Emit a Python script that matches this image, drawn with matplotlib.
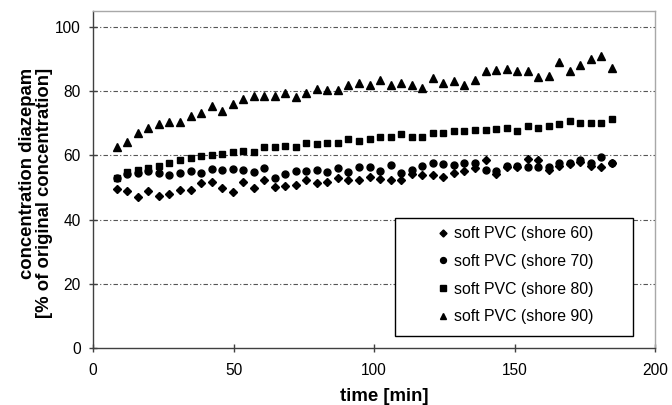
import numpy as np
import matplotlib.pyplot as plt
from matplotlib.patches import Rectangle

plt.rcParams['font.family'] = ['Liberation Sans', 'DejaVu Sans']

# sampling times [min]
time = [8.4, 12.2, 15.9, 19.7, 23.4, 27.2, 30.9, 34.7, 38.4, 42.2, 45.9, 49.7,
        53.4, 57.2, 60.9, 64.7, 68.4, 72.2, 75.9, 79.7, 83.4, 87.2, 90.9, 94.7,
        98.4, 102.2, 105.9, 109.7, 113.4, 117.2, 120.9, 124.7, 128.4, 132.2, 135.9, 139.7,
        143.4, 147.2, 150.9, 154.7, 158.4, 162.2, 165.9, 169.7, 173.4, 177.2, 180.9, 184.7]

shore60 = [49.4, 49.0, 47.1, 48.8, 47.4, 47.9, 49.2, 49.2, 51.3, 51.6, 49.9, 48.7,
           51.8, 49.9, 52.5, 50.3, 50.5, 50.8, 52.5, 51.3, 51.8, 52.9, 52.3, 52.5,
           53.4, 52.8, 52.3, 52.3, 54.2, 53.9, 53.9, 53.2, 54.6, 55.2, 56.0, 58.6,
           54.2, 56.5, 56.5, 59.0, 58.7, 55.5, 56.7, 57.2, 58.0, 56.7, 56.3, 57.5]

shore70 = [53.0, 54.2, 54.6, 55.0, 54.6, 53.9, 54.4, 55.2, 54.4, 55.8, 55.5, 55.8,
           55.5, 54.9, 56.0, 53.1, 54.2, 55.2, 55.2, 55.5, 54.9, 56.0, 54.9, 56.3,
           56.3, 55.2, 57.0, 54.6, 55.6, 56.7, 57.7, 57.3, 57.0, 57.7, 57.7, 55.6,
           55.2, 56.7, 56.7, 56.5, 56.5, 56.5, 57.7, 57.5, 58.6, 57.7, 59.4, 57.7]

shore80 = [52.9, 54.8, 55.5, 56.0, 56.8, 57.8, 58.6, 59.3, 59.9, 60.1, 60.4, 61.1,
           61.5, 61.0, 62.7, 62.7, 63.0, 62.7, 64.0, 63.6, 64.0, 64.0, 65.0, 64.6,
           65.0, 65.6, 65.8, 66.6, 65.6, 65.6, 66.9, 66.9, 67.6, 67.6, 67.9, 67.9,
           68.2, 68.7, 67.6, 69.2, 68.7, 69.2, 69.8, 70.7, 70.0, 70.2, 70.2, 71.3]

shore90 = [62.7, 64.1, 67.1, 68.6, 69.8, 70.3, 70.3, 72.4, 73.3, 75.4, 73.9, 76.1,
           77.7, 78.4, 78.4, 78.4, 79.3, 78.3, 79.5, 80.6, 80.4, 80.4, 81.8, 82.5,
           81.8, 83.5, 81.8, 82.5, 81.8, 80.9, 84.0, 82.5, 83.2, 81.8, 83.5, 86.2,
           86.5, 86.9, 86.2, 86.2, 84.3, 84.8, 89.1, 86.2, 88.2, 90.1, 91.1, 87.3]

labels = ['soft PVC (shore 60)', 'soft PVC (shore 70)',
          'soft PVC (shore 80)', 'soft PVC (shore 90)']

fig = plt.figure(figsize=(6.72, 4.05), dpi=100)
ax = fig.add_axes([0.1384, 0.1407, 0.8363, 0.8329])

ax.plot(time, shore60, 'D', color='black', ms=4.2, label=labels[0])
ax.plot(time, shore70, 'o', color='black', ms=5.0, label=labels[1])
ax.plot(time, shore80, 's', color='black', ms=4.6, label=labels[2])
ax.plot(time, shore90, '^', color='black', ms=5.6, label=labels[3])

ax.set_xlim(0, 200)
ax.set_ylim(0, 105.1)
ax.set_xticks([0, 50, 100, 150, 200])
ax.set_yticks([0, 20, 40, 60, 80, 100])

# dash-dot gridlines like the spreadsheet original
for yv in [20, 40, 60, 80, 100]:
    ax.axhline(yv, color='#555555', lw=0.8, ls=(0, (4, 2, 1, 2)), zorder=0)

for side in ['left', 'bottom']:
    ax.spines[side].set_color('#404040')
    ax.spines[side].set_linewidth(1.0)
for side in ['top', 'right']:
    ax.spines[side].set_color('#a8a8a8')
    ax.spines[side].set_linewidth(1.0)

ax.tick_params(direction='inout', length=6, width=1.0, color='#404040',
               labelsize=11.2)
ax.tick_params(axis='x', pad=8)
ax.tick_params(axis='y', pad=6)

fig.text(0.5723, 0.021, 'time [min]', fontsize=13.4, fontweight='bold',
         ha='center', va='center')
fig.text(0.0536, 0.5247, 'concentration diazepam\n[% of original concentration]',
         fontsize=13.3, fontweight='bold', rotation=90, ha='center', va='center',
         multialignment='right', linespacing=1.0)

# legend box drawn separately, entries centred inside it
ax.add_patch(Rectangle((0.537, 0.036), 0.424, 0.349, transform=ax.transAxes,
                       facecolor='white', edgecolor='black', lw=1.0, zorder=4))
leg = ax.legend(loc='center', bbox_to_anchor=(0.752, 0.2155), fontsize=11.4,
                frameon=False, handlelength=0.6, handletextpad=0.4,
                labelspacing=0.8, markerscale=0.85, numpoints=1)
leg.set_zorder(5)

fig.savefig('out.png', dpi=100)
